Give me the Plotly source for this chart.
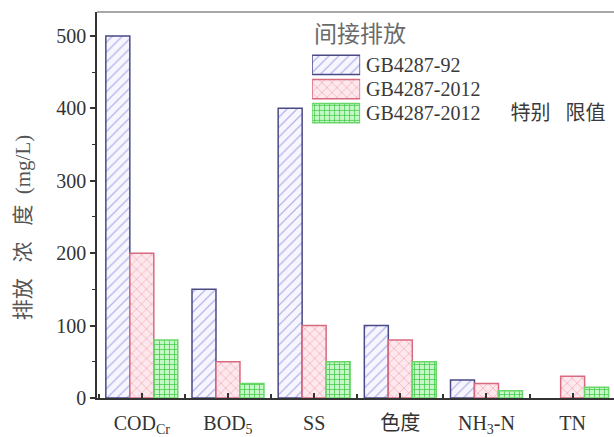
import plotly.graph_objects as go

# Indirect discharge limits (mg/L) under the three standards
categories = ["COD<sub>Cr</sub>", "BOD<sub>5</sub>", "SS", "色度", "NH<sub>3</sub>-N", "TN"]
gb_92 = [500, 150, 400, 100, 25, None]
gb_2012 = [200, 50, 100, 80, 20, 30]
gb_2012_special = [80, 20, 50, 50, 10, 15]

NB = "\u00a0"
series_names = ["GB4287-92", "GB4287-2012",
                "GB4287-2012" + NB * 6 + "特别" + NB * 3 + "限值"]
legend_title = "间接排放"
y_title = "排放" + NB * 3 + "浓" + NB * 3 + "度" + NB * 2 + "(mg/L)"

styles = [
    dict(line="#4a4a86", fg="#b4b4ea", bg="#f7f6ff", shape="/", size=7, solidity=0.18),
    dict(line="#d86a80", fg="#f0a2b2", bg="#fde9ed", shape="x", size=7, solidity=0.18),
    dict(line="#6ad66a", fg="#38c640", bg="#c6f7c6", shape="+", size=5, solidity=0.26),
]

serif = "Liberation Serif, Noto Sans CJK SC, serif"
xs = list(range(len(categories)))

fig = go.Figure()
for name, vals, st in zip(series_names, [gb_92, gb_2012, gb_2012_special], styles):
    fig.add_trace(go.Bar(
        x=xs, y=vals, name=name, showlegend=False,
        marker=dict(
            color=st["bg"],
            line=dict(color=st["line"], width=1.5),
            pattern=dict(shape=st["shape"], fgcolor=st["fg"], bgcolor=st["bg"],
                         size=st["size"], solidity=st["solidity"], fillmode="replace"),
        ),
    ))

# Legend swatches drawn as short horizontal bars on an inset axis
for i, st in enumerate(styles):
    fig.add_trace(go.Bar(
        x=[1], y=[i], base=0, orientation="h", width=0.8, offset=-0.4,
        xaxis="x2", yaxis="y2", showlegend=False, hoverinfo="skip",
        marker=dict(
            color=st["bg"],
            line=dict(color=st["line"], width=1.5),
            pattern=dict(shape=st["shape"], fgcolor=st["fg"], bgcolor=st["bg"],
                         size=st["size"], solidity=st["solidity"], fillmode="replace"),
        ),
    ))
    fig.add_annotation(
        x=1, y=i, xref="x2", yref="y2", xanchor="left", yanchor="middle",
        xshift=4, text=series_names[i], showarrow=False,
        font=dict(family=serif, size=20, color="#3a3a3a"),
    )

fig.add_annotation(
    x=0, y=0.948, xref="x2", yref="paper", xanchor="left", yanchor="middle",
    text=legend_title, showarrow=False,
    font=dict(family="Noto Sans CJK SC", size=23, color="#6a6a6a"),
)

fig.add_annotation(
    x=-0.143, y=0.44, xref="paper", yref="paper", textangle=-90,
    xanchor="center", yanchor="middle", text=y_title, showarrow=False,
    font=dict(family=serif, size=21, color="#555555"),
)

# Top frame line
fig.add_shape(type="line", xref="paper", yref="paper", x0=0, x1=1, y0=1, y1=1,
              line=dict(color="#a8a8a8", width=2))

fig.update_layout(
    width=614, height=437,
    margin=dict(l=97, r=0, t=12, b=39),
    paper_bgcolor="white", plot_bgcolor="white",
    barmode="group", bargap=0.165, bargroupgap=0,
    showlegend=False,
    xaxis=dict(
        range=[-0.52, 5.48], tickmode="array", tickvals=xs, ticktext=categories,
        ticks="inside", ticklen=5, tickwidth=1.5, tickcolor="#333333",
        minor=dict(ticks="inside", ticklen=4, tickwidth=1.5, tickcolor="#333333",
                   tick0=0.5, dtick=1),
        showline=True, linecolor="#333333", linewidth=1.5,
        showgrid=False, zeroline=False, ticklabelstandoff=6,
        tickfont=dict(family=serif, size=20, color="#333333"),
    ),
    yaxis=dict(
        range=[0, 533], tickvals=[0, 100, 200, 300, 400, 500],
        ticks="outside", ticklen=5, tickwidth=1.5, tickcolor="#333333",
        minor=dict(ticks="outside", ticklen=3, tickwidth=1.2, tickcolor="#333333",
                   tick0=0, dtick=50),
        showline=True, linecolor="#333333", linewidth=1.5,
        showgrid=False, zeroline=False,
        tickfont=dict(family=serif, size=20, color="#333333"),
    ),
    xaxis2=dict(domain=[0.416, 0.509], range=[0, 1], anchor="y2", visible=False,
                fixedrange=True),
    yaxis2=dict(domain=[0.707, 0.894], range=[2.5, -0.5], anchor="x2", visible=False,
                fixedrange=True),
)

fig.write_html("out.html")
